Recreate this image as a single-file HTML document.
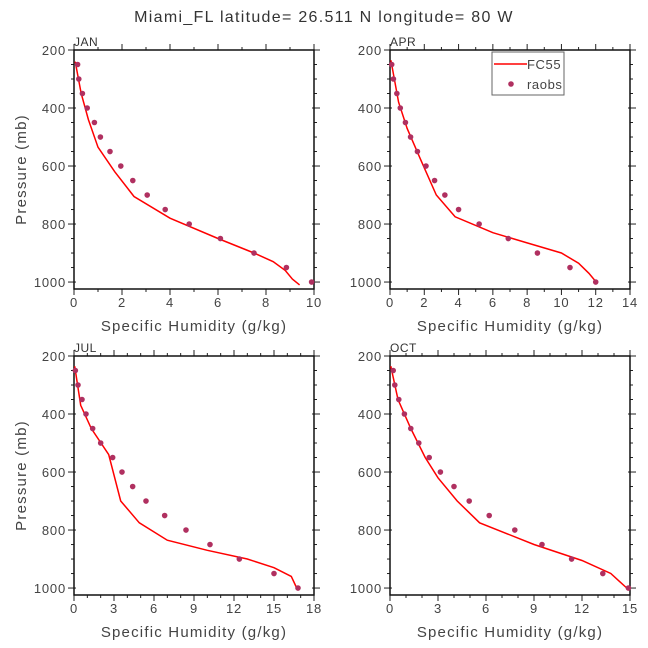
<!DOCTYPE html>
<html><head><meta charset="utf-8"><style>
html,body{margin:0;padding:0;background:#fff;}
svg{display:block;font-family:"Liberation Sans",sans-serif;}
</style></head><body>
<svg id="chart" width="648" height="648" viewBox="0 0 648 648">
<text x="324" y="22" text-anchor="middle" font-size="16" letter-spacing="1.3" fill="#333">Miami_FL  latitude= 26.511 N longitude= 80 W</text>
</svg>
<script>
const months = ["JAN","APR","JUL","OCT"];
const xMaxes = [10,14,18,15];
const xMajorSteps = [2,2,3,3];
const yTicks = [200,400,600,800,1000];
const raobP = [250,300,350,400,450,500,550,600,650,700,750,800,850,900,950,1000];
const raobJAN = [0.15,0.2,0.35,0.55,0.85,1.1,1.5,1.95,2.45,3.05,3.8,4.8,6.1,7.5,8.85,9.9];
const raobAPR = [0.1,0.2,0.4,0.6,0.9,1.2,1.6,2.1,2.6,3.2,4.0,5.2,6.9,8.6,10.5,12.0];
const raobJUL = [0.1,0.3,0.6,0.9,1.4,2.0,2.9,3.6,4.4,5.4,6.8,8.4,10.2,12.4,15.0,16.8];
const raobOCT = [0.2,0.3,0.55,0.9,1.3,1.8,2.45,3.15,4.0,4.95,6.2,7.8,9.5,11.35,13.3,14.9];
const fcJAN_q = [0.05,0.3,0.6,1.0,1.7,2.5,4,6,7.5,8.3,8.8,9.1,9.4];
const fcJAN_p = [240,350,440,535,620,705,780,850,900,930,960,990,1010];
const fcAPR_q = [0.05,0.5,1,1.8,2.7,3.8,6,8,10,11,11.6,12.1];
const fcAPR_p = [235,380,470,580,700,775,830,865,900,935,970,1005];
const fcJUL_q = [0.05,0.5,1.3,2.6,3.5,4.9,7,10,13,15,16.3,16.7];
const fcJUL_p = [235,370,450,540,700,775,835,870,900,930,960,1000];
const fcOCT_q = [0.05,0.5,1.3,2.2,3,4.2,5.6,9,12,13.8,14.3,14.9];
const fcOCT_p = [235,350,450,550,620,700,775,850,905,950,975,1005];
const raobs = [raobJAN,raobAPR,raobJUL,raobOCT];
const fcQ = [fcJAN_q,fcAPR_q,fcJUL_q,fcOCT_q];
const fcP = [fcJAN_p,fcAPR_p,fcJUL_p,fcOCT_p];

const NS="http://www.w3.org/2000/svg";
const svg=document.getElementById('chart');
function mk(tag,attrs,parent){const e=document.createElementNS(NS,tag);for(const k in attrs)e.setAttribute(k,attrs[k]);(parent||svg).appendChild(e);return e;}
const boxes=[[74,50],[390,50],[74,356],[390,356]];
const W=240,H=239,pMin=200,pMax=1024;
months.forEach((m,i)=>{
  const [x0,y0]=boxes[i];
  const xMax=xMaxes[i];
  const xs=q=>x0+q/xMax*W;
  const ys=p=>y0+(p-pMin)/(pMax-pMin)*H;
  const g=mk('g',{});
  
  
  const lab=mk('text',{x:x0,y:y0-4,'font-size':12,'letter-spacing':0.5,fill:'#333'},g);lab.textContent=m;
  
  
  for(let q=0;q<=xMax;q+=1){
    const maj=q%xMajorSteps[i]===0;const L=maj?6:3;
    mk('line',{x1:xs(q),x2:xs(q),y1:y0,y2:y0-L,stroke:'#222','stroke-width':1},g);
    mk('line',{x1:xs(q),x2:xs(q),y1:y0+H,y2:y0+H+L,stroke:'#222','stroke-width':1},g);
    if(maj){const t=mk('text',{x:xs(q),y:y0+H+18,'text-anchor':'middle','font-size':13,'letter-spacing':0.8,fill:'#444'},g);t.textContent=q;
      
      }
  }
  for(let p=200;p<=1000;p+=50){
    const maj=p%200===0;const L=maj?6:3;
    mk('line',{x1:x0-L,x2:x0+(maj?2:0),y1:ys(p),y2:ys(p),stroke:'#222','stroke-width':1},g);
    mk('line',{x1:x0+W+L,x2:x0+W-(maj?2:0),y1:ys(p),y2:ys(p),stroke:'#222','stroke-width':1},g);
  }
  yTicks.forEach(p=>{const t=mk('text',{x:x0-8,y:ys(p)+5,'text-anchor':'end','font-size':13,'letter-spacing':0.8,fill:'#444'},g);t.textContent=p;
    
    });
  mk('rect',{x:x0,y:y0,width:W,height:H,fill:'none',stroke:'#111','stroke-width':1.5},g);
  const xt=mk('text',{x:x0+W/2,y:y0+H+42,'text-anchor':'middle','font-size':15,'letter-spacing':1.2,fill:'#444'},g);xt.textContent='Specific Humidity (g/kg)';
  
  
  if(x0<100){const yt=mk('text',{x:0,y:0,transform:`translate(26,${y0+H/2}) rotate(-90)`,'text-anchor':'middle','font-size':15,'letter-spacing':1.2,fill:'#444'},g);yt.textContent='Pressure (mb)';
    
    }
  const d=fcQ[i].map((q,k)=>(k?'L':'M')+xs(q).toFixed(1)+' '+ys(fcP[i][k]).toFixed(1)).join(' ');
  const ln=mk('path',{d:d,fill:'none',stroke:'#f00','stroke-width':1.5},g);
  
  
  raobs[i].forEach((q,k)=>{const c=mk('circle',{cx:xs(q),cy:ys(raobP[k]),r:2.8,fill:'#b03060'},g);
    
    });
});
const lg=mk('g',{});


mk('rect',{x:492,y:52,width:72,height:43,fill:'#fff',stroke:'#666','stroke-width':1},lg);
mk('line',{x1:494,x2:527,y1:64,y2:64,stroke:'#f00','stroke-width':1.5},lg);
const t1=mk('text',{x:527,y:69,'font-size':13,'letter-spacing':0.6,fill:'#444'},lg);t1.textContent='FC55';


mk('circle',{cx:511,cy:84,r:2.8,fill:'#b03060'},lg);
const t2=mk('text',{x:527,y:89,'font-size':13,'letter-spacing':0.6,fill:'#444'},lg);t2.textContent='raobs';


</script>
</body></html>
